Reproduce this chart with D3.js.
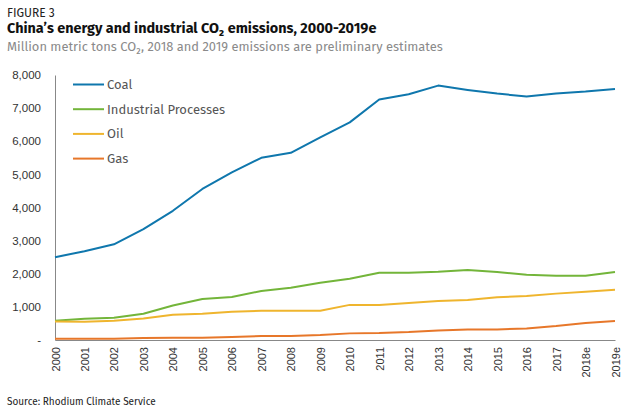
<!DOCTYPE html>
<html><head><meta charset="utf-8">
<script src="https://cdn.jsdelivr.net/npm/d3@7"></script>
<style>
html,body{margin:0;padding:0;background:#fff;}
svg{display:block;font-family:"Fira Sans","Lato","Open Sans",sans-serif;}
</style></head>
<body><svg id="c" width="630" height="416"></svg>
<script>
const years = ["2000","2001","2002","2003","2004","2005","2006","2007","2008","2009","2010","2011","2012","2013","2014","2015","2016","2017","2018e","2019e"];
const coal = [2500,2680,2890,3350,3900,4560,5060,5500,5650,6120,6570,7260,7420,7680,7550,7440,7350,7440,7500,7580];
const industrial = [580,640,670,790,1040,1240,1300,1480,1580,1730,1850,2030,2030,2060,2110,2050,1970,1940,1940,2050];
const oil = [560,550,580,650,760,790,850,880,880,880,1060,1060,1120,1180,1210,1290,1330,1400,1460,1520];
const gas = [35,35,40,60,70,70,90,120,120,150,200,210,240,290,320,320,350,420,510,570];
const seriesNames = ["Coal","Industrial Processes","Oil","Gas"];
const seriesColors = ["#0f77ad","#73b53a","#efb52e","#e7772a"];
const yTicks = [0,1000,2000,3000,4000,5000,6000,7000,8000];
const seriesData = [coal, industrial, oil, gas];

const svg = d3.select("#c");
const x = d3.scalePoint().domain(years).range([55,615]);
const y = d3.scaleLinear().domain([0,8000]).range([340,75]);

// titles
svg.append("text").attr("x",7).attr("y",17).attr("font-size",12).attr("fill","#222").text("FIGURE 3");
svg.append("text").attr("x",7).attr("y",33).attr("font-size",14.4).attr("font-weight","bold").attr("fill","#111")
  .text("China\u2019s energy and industrial CO\u2082 emissions, 2000-2019e");
svg.append("text").attr("x",7).attr("y",51).attr("font-size",12.9).attr("fill","#8a8a8a")
  .text("Million metric tons CO\u2082, 2018 and 2019 emissions are preliminary estimates");

// y axis
const yAxis = svg.append("g").attr("transform","translate(55,0)")
  .call(d3.axisLeft(y).tickValues(yTicks).tickSize(0).tickPadding(14)
    .tickFormat(d => d===0 ? "-" : d3.format(",")(d)));
yAxis.select(".domain").attr("stroke","#888").attr("stroke-width",1);
yAxis.selectAll("text").attr("font-size",11.5).attr("fill","#333").attr("font-family","inherit");

// x axis
const xAxis = svg.append("g").attr("transform","translate(0,340)")
  .call(d3.axisBottom(x).tickSize(0).tickPadding(0));
xAxis.select(".domain").attr("stroke","#888").attr("stroke-width",1);
xAxis.selectAll("text").attr("font-size",11).attr("fill","#333").attr("font-family","inherit")
  .attr("text-anchor","end").attr("dy",null)
  .attr("transform","translate(4,7) rotate(-90)").attr("x",0).attr("y",0);

// lines
const line = d3.line().x((d,i)=>x(years[i])).y(d=>y(d));
seriesData.forEach((s,k)=>{
  svg.append("path").datum(s).attr("d",line).attr("fill","none")
    .attr("stroke",seriesColors[k]).attr("stroke-width",2).attr("stroke-linejoin","round");
});

// legend
const lg = svg.append("g");
seriesNames.forEach((n,i)=>{
  const yy = 84.5 + i*24.7;
  lg.append("line").attr("x1",73).attr("x2",104).attr("y1",yy).attr("y2",yy)
    .attr("stroke",seriesColors[i]).attr("stroke-width",2);
  lg.append("text").attr("x",107).attr("y",yy+4.5).attr("font-size",13).attr("fill","#555").text(n);
});

// source
svg.append("text").attr("x",7).attr("y",405).attr("font-size",10).attr("fill","#222")
  .text("Source: Rhodium Climate Service");
</script></body></html>
